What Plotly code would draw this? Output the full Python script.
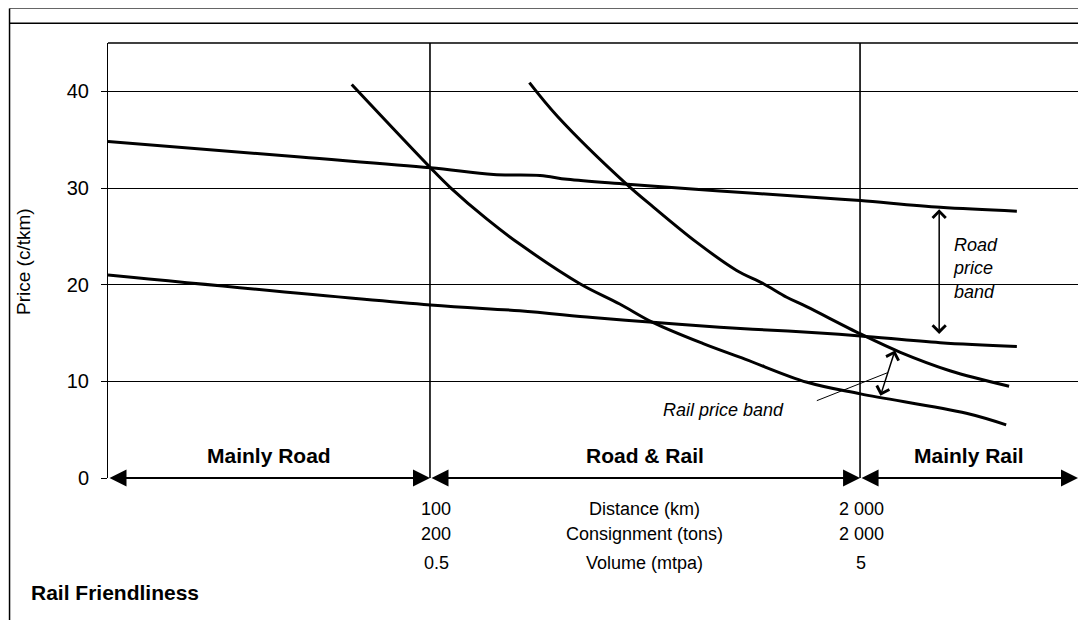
import plotly.graph_objects as go

# ---- data (x = rail-friendliness position, 0..100 across the plot; y = price c/tkm)
road_high_x = [0, 19.8, 33.2, 39.7, 44.5, 47.3, 53.5, 63.0, 73.3, 77.5, 85.7, 93.6]
road_high_y = [34.8, 33.2, 32.1, 31.4, 31.3, 30.9, 30.4, 29.7, 29.0, 28.7, 28.0, 27.6]

road_low_x = [0, 33.2, 42.4, 49.9, 56.1, 63.0, 66.4, 73.3, 77.5, 85.7, 93.6]
road_low_y = [21.0, 17.9, 17.3, 16.6, 16.1, 15.6, 15.4, 15.0, 14.7, 14.0, 13.6]

rail_low_x = [25.1, 33.2, 35.2, 39.0, 42.4, 48.6, 52.7, 56.1, 61.3, 65.6, 72.0, 77.5, 88.4, 92.5]
rail_low_y = [40.7, 32.1, 30.1, 26.8, 24.2, 20.1, 18.0, 16.1, 13.9, 12.3, 9.9, 8.7, 6.7, 5.5]

rail_high_x = [43.4, 46.3, 53.4, 56.2, 60.6, 64.7, 67.5, 69.9, 72.0, 77.5, 81.6, 86.7, 92.8]
rail_high_y = [40.9, 37.4, 30.4, 28.0, 24.4, 21.5, 20.1, 18.7, 17.7, 14.9, 13.0, 11.1, 9.5]

zone_bounds = [0, 33.16, 77.45, 99.9]
zone_labels = ["Mainly Road", "Road & Rail", "Mainly Rail"]

col_left = ["100", "200", "0.5"]
col_mid = ["Distance (km)", "Consignment (tons)", "Volume (mtpa)"]
col_right = ["2 000", "2 000", "5"]
row_y = [-0.0713, -0.1287, -0.1943]  # paper units below the plot

y_ticks = [0, 10, 20, 30, 40]

FONT = "Arial, 'Liberation Sans', sans-serif"

fig = go.Figure()
for xs, ys in [(road_high_x, road_high_y), (road_low_x, road_low_y),
               (rail_low_x, rail_low_y), (rail_high_x, rail_high_y)]:
    fig.add_trace(go.Scatter(x=xs, y=ys, mode="lines",
                             line=dict(color="black", width=3, shape="spline", smoothing=1.0),
                             showlegend=False, hoverinfo="skip"))

shapes = []
# vertical zone boundaries
for xb in zone_bounds[1:3]:
    shapes.append(dict(type="line", xref="x", yref="y", x0=xb, x1=xb, y0=0, y1=45.4,
                       line=dict(color="black", width=1.6)))
# plot top border
shapes.append(dict(type="line", xref="paper", yref="paper", x0=0, x1=1.01, y0=1, y1=1,
                   line=dict(color="black", width=1.5)))
# outer frame
shapes.append(dict(type="line", xref="paper", yref="paper", x0=-0.1014, x1=1.01,
                   y0=1.0793, y1=1.0793, line=dict(color="#666", width=1)))
shapes.append(dict(type="line", xref="paper", yref="paper", x0=-0.1014, x1=1.01,
                   y0=1.0453, y1=1.0453, line=dict(color="black", width=1.5)))
shapes.append(dict(type="line", xref="paper", yref="paper", x0=-0.1014, x1=-0.1014,
                   y0=1.0793, y1=-0.33, line=dict(color="black", width=1.5)))
# rail band leader line
shapes.append(dict(type="line", xref="x", yref="y", x0=73.0, y0=8.0, x1=80.3, y1=10.9,
                   line=dict(color="black", width=1)))

ann = []
# zone arrows along the base
for i in range(3):
    ann.append(dict(x=zone_bounds[i + 1], y=0, ax=zone_bounds[i], ay=0,
                    xref="x", yref="y", axref="x", ayref="y", text="",
                    showarrow=True, arrowside="end+start",
                    arrowhead=2, startarrowhead=2, arrowsize=1.7, startarrowsize=1.7,
                    arrowwidth=2, arrowcolor="black", standoff=0, startstandoff=0))
    ann.append(dict(x=(zone_bounds[i] + zone_bounds[i + 1]) / 200, y=(477.7 - 455) / 435,
                    xref="paper", yref="paper", xanchor="center", yanchor="middle",
                    text="<b>%s</b>" % zone_labels[i], showarrow=False,
                    font=dict(family=FONT, size=21, color="black")))
# road price band arrow
ann.append(dict(x=85.6, y=27.8, ax=85.6, ay=14.75, xref="x", yref="y", axref="x", ayref="y",
                text="", showarrow=True, arrowside="end+start", arrowhead=4, startarrowhead=4,
                arrowsize=1.7, startarrowsize=1.7, arrowwidth=1.5, arrowcolor="black",
                standoff=0, startstandoff=0))
ann.append(dict(x=86.8, y=21.7, xref="x", yref="y", xanchor="left", yanchor="middle",
                text="<i>Road<br>price<br>band</i>", showarrow=False, align="left",
                font=dict(family=FONT, size=18, color="black")))
# rail price band arrow
ann.append(dict(x=81.05, y=13.2, ax=79.5, ay=8.35, xref="x", yref="y", axref="x", ayref="y",
                text="", showarrow=True, arrowside="end+start", arrowhead=4, startarrowhead=4,
                arrowsize=1.7, startarrowsize=1.7, arrowwidth=1.5, arrowcolor="black",
                standoff=0, startstandoff=0))
ann.append(dict(x=63.4, y=7.0, xref="x", yref="y", text="<i>Rail price band</i>",
                showarrow=False, font=dict(family=FONT, size=18, color="black")))
# bottom table
for i in range(3):
    for xc, txt in [(0.338, col_left[i]), (0.553, col_mid[i]), (0.7755, col_right[i])]:
        ann.append(dict(x=xc, y=row_y[i], xref="paper", yref="paper", text=txt,
                        xanchor="center", yanchor="middle",
                        showarrow=False, font=dict(family=FONT, size=18, color="black")))
ann.append(dict(x=-0.0814, y=-0.2621, xref="paper", yref="paper", xanchor="left",
                yanchor="middle", text="<b>Rail Friendliness</b>", showarrow=False,
                font=dict(family=FONT, size=21, color="black")))
ann.append(dict(x=-0.0865, y=0.4966, xref="paper", yref="paper", text="Price (c/tkm)",
                xanchor="center", yanchor="middle",
                textangle=-90, showarrow=False, font=dict(family=FONT, size=19, color="black")))

fig.update_layout(
    width=1086, height=620,
    margin=dict(l=100, r=15, t=35, b=150),
    paper_bgcolor="white", plot_bgcolor="white",
    shapes=shapes, annotations=ann, showlegend=False,
    xaxis=dict(range=[0, 100], showgrid=False, zeroline=False, showline=False,
               showticklabels=False, ticks=""),
    yaxis=dict(range=[0, 45], tickvals=y_ticks, showgrid=True, gridcolor="black", gridwidth=1,
               zeroline=False, showline=True, linecolor="black", linewidth=1,
               ticks="outside", ticklen=6, tickcolor="black", ticklabelstandoff=8,
               tickfont=dict(family=FONT, size=20, color="black")),
)

fig.write_html("out.html")
